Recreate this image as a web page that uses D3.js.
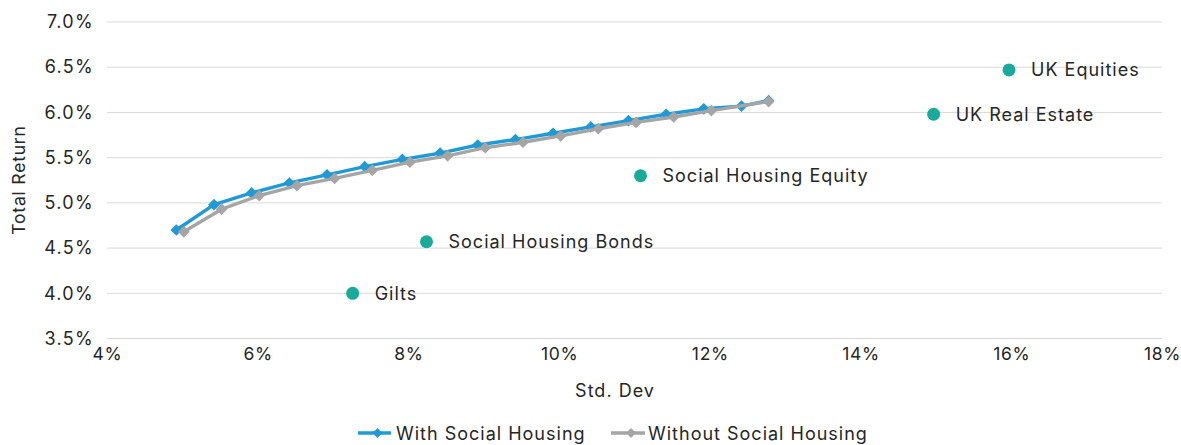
<!DOCTYPE html>
<html><head><meta charset="utf-8">
<script src="https://cdn.jsdelivr.net/npm/d3@7/dist/d3.min.js"></script>
<style>body{margin:0;background:#fff}svg{display:block}</style>
</head><body>
<svg id="chart" width="1181" height="445"></svg>
<script>
const withSH_sd  = [4.92,5.42,5.92,6.42,6.92,7.42,7.92,8.42,8.92,9.42,9.92,10.42,10.92,11.42,11.92,12.42,12.78];
const withSH_ret = [4.70,4.98,5.11,5.22,5.31,5.40,5.48,5.55,5.64,5.70,5.77,5.84,5.91,5.98,6.04,6.07,6.13];
const withoutSH_sd  = [5.02,5.52,6.02,6.52,7.02,7.52,8.02,8.52,9.02,9.52,10.02,10.52,11.02,11.52,12.02,12.78];
const withoutSH_ret = [4.68,4.93,5.08,5.19,5.27,5.36,5.45,5.52,5.61,5.67,5.74,5.82,5.89,5.95,6.02,6.12];
const assetNames = ["UK Equities","UK Real Estate","Social Housing Equity","Social Housing Bonds","Gilts"];
const assetSD    = [15.97,14.97,11.08,8.24,7.26];
const assetRet   = [6.47,5.98,5.30,4.57,4.00];
const xTicks = [4,6,8,10,12,14,16,18];
const yTicks = [3.5,4.0,4.5,5.0,5.5,6.0,6.5,7.0];
const seriesNames = ["With Social Housing","Without Social Housing"];

const svg = d3.select("#chart");
const x = d3.scaleLinear().domain([4,18]).range([107,1162]);
const y = d3.scaleLinear().domain([3.5,7.0]).range([338.5,22]);
const FONT = "Inter, 'Open Sans', sans-serif";
const BLUE = "#1f9ad6", GRAY = "#a5a5a5", TEAL = "#19aa9b", TXT = "#262626";

// grid
svg.append("g").selectAll("line").data(yTicks).join("line")
  .attr("x1", x(4)).attr("x2", x(18))
  .attr("y1", d=>y(d)).attr("y2", d=>y(d))
  .attr("stroke", "#d9d9d9").attr("stroke-width", 1);

// y axis
const yAxis = svg.append("g").attr("transform", `translate(${x(4)},0)`)
  .call(d3.axisLeft(y).tickValues(yTicks).tickFormat(d=>d.toFixed(1)+"%").tickSize(0).tickPadding(13));
yAxis.select(".domain").remove();
yAxis.selectAll("text").attr("font-family", FONT).attr("font-size", 18)
  .attr("letter-spacing", 1.3).attr("fill", TXT);

// x axis
const xAxis = svg.append("g").attr("transform", `translate(0,${y(3.5)})`)
  .call(d3.axisBottom(x).tickValues(xTicks).tickFormat(d=>d+"%").tickSize(0).tickPadding(9));
xAxis.select(".domain").remove();
xAxis.selectAll("text").attr("font-family", FONT).attr("font-size", 17.5)
  .attr("letter-spacing", 0.7).attr("fill", TXT);

// axis titles
svg.append("text").attr("x", 615).attr("y", 397).attr("text-anchor","middle")
  .attr("font-family", FONT).attr("font-size", 18).attr("letter-spacing", 1).attr("fill", TXT).text("Std. Dev");
svg.append("text").attr("transform", "translate(25,180) rotate(-90)").attr("text-anchor","middle")
  .attr("font-family", FONT).attr("font-size", 17.5).attr("letter-spacing", 0.8).attr("fill", TXT).text("Total Return");

const line = d3.line().x(d=>x(d[0])).y(d=>y(d[1]));

function drawSeries(sd, ret, color) {
  const pts = sd.map((s,i)=>[s, ret[i]]);
  const g = svg.append("g");
  g.append("path").datum(pts).attr("d", line).attr("fill","none")
    .attr("stroke", color).attr("stroke-width", 3.4).attr("stroke-linejoin","round");
  g.selectAll("path.m").data(pts).join("path").attr("class","m")
    .attr("d", d3.symbol().type(d3.symbolSquare).size(68)).attr("fill", color)
    .attr("transform", d=>`translate(${x(d[0])},${y(d[1])}) rotate(45)`);
}
drawSeries(withSH_sd, withSH_ret, BLUE);
drawSeries(withoutSH_sd, withoutSH_ret, GRAY);

// assets
const ag = svg.append("g");
ag.selectAll("circle").data(assetNames).join("circle")
  .attr("cx", (d,i)=>x(assetSD[i])).attr("cy", (d,i)=>y(assetRet[i])).attr("r", 6.5).attr("fill", TEAL);
ag.selectAll("text").data(assetNames).join("text")
  .attr("x", (d,i)=>x(assetSD[i])+22).attr("y", (d,i)=>y(assetRet[i])+6.5)
  .attr("font-family", FONT).attr("font-size", 18).attr("letter-spacing", 1).attr("fill", TXT).text(d=>d);

// legend
const leg = [
  {name: seriesNames[0], color: BLUE, x0: 358, x1: 391, tx: 396},
  {name: seriesNames[1], color: GRAY, x0: 611, x1: 645, tx: 648}
];
const lg = svg.append("g");
leg.forEach(l=>{
  lg.append("line").attr("x1", l.x0).attr("x2", l.x1).attr("y1", 433).attr("y2", 433)
    .attr("stroke", l.color).attr("stroke-width", 3.4);
  lg.append("path").attr("d", d3.symbol().type(d3.symbolSquare).size(48))
    .attr("transform", `translate(${(l.x0+l.x1)/2+3},433) rotate(45)`).attr("fill", l.color);
  lg.append("text").attr("x", l.tx).attr("y", 439.5).attr("font-family", FONT)
    .attr("font-size", 18).attr("letter-spacing", 1).attr("fill", TXT).text(l.name);
});
</script>
</body></html>
